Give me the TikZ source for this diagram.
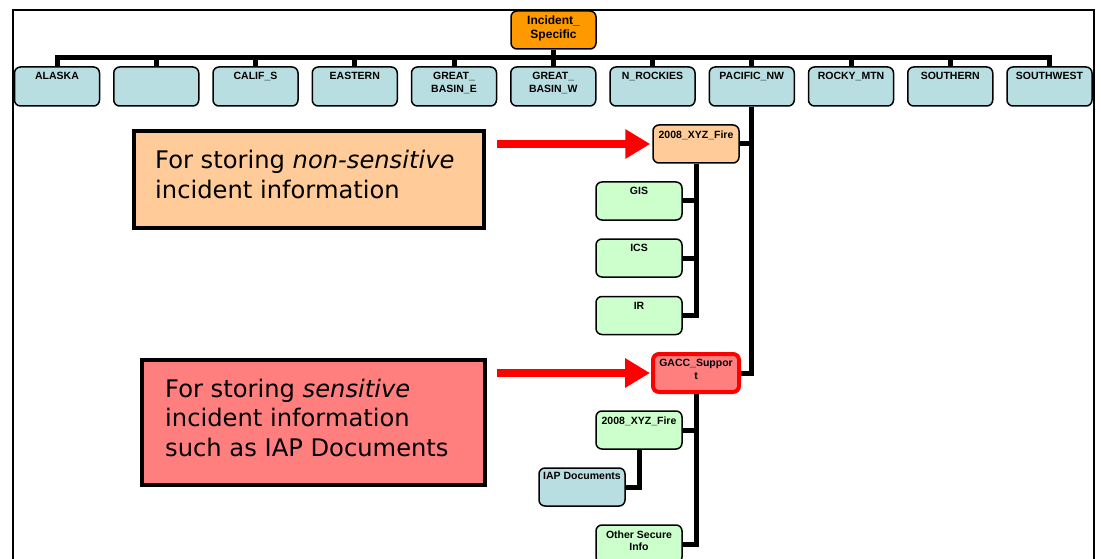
\documentclass[tikz,border=0pt]{standalone}
\usepackage{fontspec}
\setmainfont{Liberation Sans}
\newfontfamily\calloutfont{DejaVu Sans}
\usetikzlibrary{arrows.meta}

\definecolor{regionblue}{HTML}{B9DEE2}
\definecolor{incidentorange}{HTML}{FF9900}
\definecolor{paleorange}{HTML}{FFCC99}
\definecolor{palegreen}{HTML}{CCFFCC}
\definecolor{securered}{HTML}{FF7F7F}

\tikzset{
  folder/.style={draw, line width=1.5, rounded corners=6, minimum width=86, minimum height=38, inner sep=0},
  tag/.style={font=\bfseries\fontsize{10.5}{12.5}\selectfont, align=center, anchor=north, inner sep=0, yshift=-6pt},
  bar/.style={line width=5, line join=miter},
  note/.style={draw, line width=4, inner sep=0},
  notetext/.style={font=\calloutfont\fontsize{24.2}{29.5}\selectfont, align=left, anchor=west, inner sep=0, yshift=5pt},
  pointer/.style={red, line width=8, -{Triangle[length=25pt,width=28pt]}},
}

\begin{document}
\begin{tikzpicture}[x=1pt, y=-1pt]
  \useasboundingbox (0,0) rectangle (1101,559);
  \clip (0,0) rectangle (1101,559);

  % frame
  \draw[line width=2] (12.5,580) -- (12.5,10) -- (1094,10) -- (1094,580);

  % regions
  \foreach \name/\txt [count=\i from 0] in {alaska/ALASKA, blank/, califs/CALIF\_S, eastern/EASTERN,
      gbasine/GREAT\_\\BASIN\_E, gbasinw/GREAT\_\\BASIN\_W, nrockies/N\_ROCKIES, pacific/PACIFIC\_NW,
      rocky/ROCKY\_MTN, southern/SOUTHERN, southwest/SOUTHWEST}
    \node[folder, minimum width=85, minimum height=39, fill=regionblue, label={[tag]north:\txt}] (\name) at (57+99.25*\i, 86.5) {};

  \node[folder, minimum width=85, fill=incidentorange,
    label={[tag, font=\bfseries\fontsize{12}{13.5}\selectfont, yshift=0.5pt]north:Incident\_\\Specific}] (incident) at (553.5,30) {};

  \coordinate (bus) at (0,58);
  \draw[bar] (alaska.north) -- (alaska.north |- bus) -- (southwest.north |- bus) -- (southwest.north);
  \foreach \name in {blank, califs, eastern, gbasine, gbasinw, nrockies, pacific, rocky, southern}
    \draw[bar] (\name.north) -- (\name.north |- bus);
  \draw[bar] (incident.south) -- (incident.south |- bus);

  % pacific northwest
  \node[folder, fill=paleorange, label={[tag]north:2008\_XYZ\_Fire}] (fire) at (696,144) {};
  \node[folder, fill=palegreen, label={[tag]north:GIS}] (gis) at (639,201) {};
  \node[folder, fill=palegreen, label={[tag]north:ICS}] (ics) at (639,258) {};
  \node[folder, fill=palegreen, label={[tag]north:IR}] (ir) at (639,315.5) {};

  \node[folder, draw=red, line width=4, minimum width=86, minimum height=38, fill=securered,
    label={[tag, yshift=-1pt]north:GACC\_Suppor\\t}] (gacc) at (696,373) {};
  \node[folder, fill=palegreen, label={[tag]north:2008\_XYZ\_Fire}] (securefire) at (639,430) {};
  \node[folder, fill=regionblue, label={[tag, yshift=1.5pt]north:IAP Documents}] (iap) at (582,487) {};
  \node[folder, fill=palegreen, label={[tag]north:Other Secure\\Info}] (other) at (639,544) {};

  \draw[bar] (pacific.south) |- (gacc.east);
  \draw[bar] (fire.east) -- (fire.east -| pacific.south);
  \draw[bar] (fire.south) |- (ir.east);
  \draw[bar] (gis.east) -- (gis.east -| fire.south);
  \draw[bar] (ics.east) -- (ics.east -| fire.south);
  \draw[bar] (gacc.south) |- (other.east);
  \draw[bar] (securefire.east) -- (securefire.east -| gacc.south);
  \draw[bar] (securefire.south) |- (iap.east);

  % callouts
  \node[note, fill=paleorange, minimum width=350, minimum height=97,
    label={[notetext, xshift=23pt]west:For storing \textit{non-sensitive}\\incident information}] (plainnote) at (309,179.5) {};
  \node[note, fill=securered, minimum width=343, minimum height=125,
    label={[notetext, xshift=25pt]west:For storing \textit{sensitive}\\incident information\\such as IAP Documents}] (securenote) at (313.5,422.5) {};

  \draw[pointer] ([xshift=11pt]plainnote.east |- fire.west) -- ([xshift=-2pt]fire.west);
  \draw[pointer] ([xshift=10pt]securenote.east |- gacc.west) -- ([xshift=-1pt]gacc.west);
\end{tikzpicture}
\end{document}
